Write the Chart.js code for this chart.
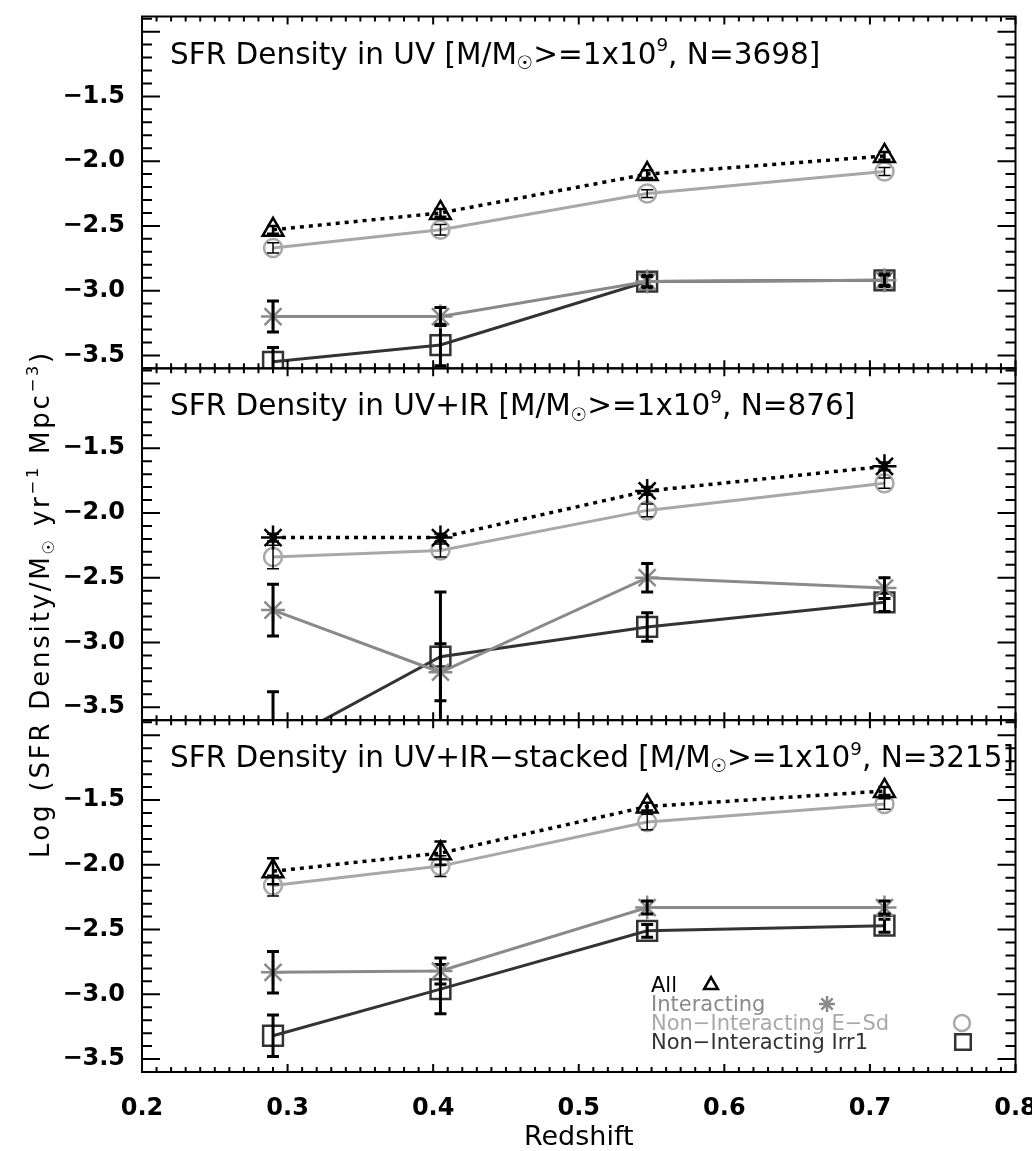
<!DOCTYPE html>
<html>
<head>
<meta charset="utf-8">
<script src="https://cdn.jsdelivr.net/npm/chart.js@4/dist/chart.umd.min.js"></script>
<style>
  html, body { margin: 0; padding: 0; background: #fff; }
</style>
</head>
<body>
<canvas id="sfr-chart" width="1032" height="1151"></canvas>
<script>
// redshift bins shared by all three panels
var redshift = [0.29, 0.405, 0.547, 0.71];

// panel 1: UV
var uvAll = [-2.53, -2.40, -2.10, -1.96];
var uvAllErr = [0.03, 0.03, 0.03, 0.03];
var uvInt = [-3.20, -3.20, -2.93, -2.92];
var uvIntErr = [0.12, 0.07, 0.04, 0.04];
var uvEsd = [-2.67, -2.53, -2.25, -2.08];
var uvEsdErr = [0.04, 0.04, 0.03, 0.03];
var uvIrr = [-3.55, -3.42, -2.93, -2.92];
var uvIrrErr = [0.11, 0.16, 0.05, 0.05];

// panel 2: UV+IR
var irAll = [-2.19, -2.19, -1.83, -1.64];
var irAllErr = [0.03, 0.03, 0.03, 0.03];
var irInt = [-2.75, -3.23, -2.50, -2.58];
var irIntErr = [0.20, 0.22, 0.11, 0.08];
var irEsd = [-2.34, -2.29, -1.98, -1.77];
var irEsdErr = [0.09, 0.05, 0.05, 0.04];
var irIrr = [-3.81, -3.11, -2.88, -2.69];
var irIrrErr = [0.43, 0.50, 0.11, 0.07];

// panel 3: UV+IR-stacked
var stAll = [-2.05, -1.91, -1.55, -1.43];
var stAllErr = [0.10, 0.09, 0.03, 0.03];
var stInt = [-2.83, -2.82, -2.33, -2.33];
var stIntErr = [0.16, 0.10, 0.05, 0.05];
var stEsd = [-2.16, -2.01, -1.67, -1.53];
var stEsdErr = [0.08, 0.08, 0.06, 0.04];
var stIrr = [-3.32, -2.96, -2.51, -2.47];
var stIrrErr = [0.16, 0.19, 0.05, 0.05];

var yLabels = [-3.5, -3.0, -2.5, -2.0, -1.5];   // labelled y ticks
var yMin = -3.6, yMax = -0.883;

var fontName = '"DejaVu Sans", sans-serif';
var colAll = "#000000", colInt = "#8a8a8a", colEsd = "#a8a8a8", colIrr = "#333333";

// text runs for the titles (s: sub / sup)
var panels = [
  { id: "yA", title: [{t: "SFR Density in UV [M/M"}, {t: "\u2609", s: "sub"}, {t: ">=1x10"}, {t: "9", s: "sup"}, {t: ", N=3698]"}],
    all: uvAll, allErr: uvAllErr, allStyle: "triangle",
    int: uvInt, intErr: uvIntErr, esd: uvEsd, esdErr: uvEsdErr, irr: uvIrr, irrErr: uvIrrErr },
  { id: "yB", title: [{t: "SFR Density in UV+IR [M/M"}, {t: "\u2609", s: "sub"}, {t: ">=1x10"}, {t: "9", s: "sup"}, {t: ", N=876]"}],
    all: irAll, allErr: irAllErr, allStyle: "star",
    int: irInt, intErr: irIntErr, esd: irEsd, esdErr: irEsdErr, irr: irIrr, irrErr: irIrrErr },
  { id: "yC", title: [{t: "SFR Density in UV+IR\u2212stacked [M/M"}, {t: "\u2609", s: "sub"}, {t: ">=1x10"}, {t: "9", s: "sup"}, {t: ", N=3215]"}],
    all: stAll, allErr: stAllErr, allStyle: "triangle",
    int: stInt, intErr: stIntErr, esd: stEsd, esdErr: stEsdErr, irr: stIrr, irrErr: stIrrErr }
];

var yTitle = [{t: "Log (SFR Density/M"}, {t: "\u2609", s: "sub"}, {t: " yr"}, {t: "\u22121", s: "sup"}, {t: " Mpc"}, {t: "\u22123", s: "sup"}, {t: ")"}];

var legendRows = [
  { text: "All", color: colAll, style: "triangle", dx: 60 },
  { text: "Interacting", color: colInt, style: "star", dx: 176 },
  { text: "Non\u2212Interacting E\u2212Sd", color: colEsd, style: "circle", dx: 311 },
  { text: "Non\u2212Interacting Irr1", color: colIrr, style: "rect", dx: 312 }
];

function toPoints(vals) {
  return vals.map(function (v, i) { return { x: redshift[i], y: v }; });
}

function series(label, axis, vals, errs, color, style, radius, dash, errWidth) {
  return {
    label: label,
    yAxisID: axis,
    data: toPoints(vals),
    errors: errs,
    errWidth: errWidth,
    showLine: true,
    borderColor: color,
    borderWidth: dash ? 3.5 : 3,
    borderDash: dash || [],
    pointStyle: style,
    pointRadius: radius,
    pointBorderWidth: 2.5,
    pointBorderColor: color,
    pointBackgroundColor: "rgba(0,0,0,0)"
  };
}

var datasets = [];
panels.forEach(function (p) {
  datasets.push(series("All", p.id, p.all, p.allErr, colAll, p.allStyle, 12, [4, 5], 2.5));
  datasets.push(series("Interacting", p.id, p.int, p.intErr, colInt, "star", 12, null, 3));
  datasets.push(series("Non-Interacting E-Sd", p.id, p.esd, p.esdErr, colEsd, "circle", 9, null, 1.5));
  datasets.push(series("Non-Interacting Irr1", p.id, p.irr, p.irrErr, colIrr, "rect", 14, null, 3));
});

// draw text runs char by char with optional extra spacing
function drawRich(ctx, runs, x, y, size, gap) {
  runs.forEach(function (r) {
    var fs = r.s ? size * 0.62 : size;
    var dy = r.s === "sup" ? -size * 0.42 : (r.s === "sub" ? size * 0.18 : 0);
    ctx.font = fs + "px " + fontName;
    Array.from(r.t).forEach(function (c) {
      ctx.fillText(c, x, y + dy);
      x += ctx.measureText(c).width + gap;
    });
  });
  return x;
}

function richWidth(ctx, runs, size, gap) {
  var w = 0;
  runs.forEach(function (r) {
    ctx.font = (r.s ? size * 0.62 : size) + "px " + fontName;
    Array.from(r.t).forEach(function (c) { w += ctx.measureText(c).width + gap; });
  });
  return w;
}

// clip every dataset to its own panel, and add the error bars
var panelClip = {
  id: "panelClip",
  beforeDatasetDraw: function (chart, args) {
    var ys = args.meta.yScale, a = chart.chartArea, ctx = chart.ctx;
    ctx.save();
    ctx.beginPath();
    ctx.rect(a.left, ys.top, a.right - a.left, ys.bottom - ys.top);
    ctx.clip();
  },
  afterDatasetDraw: function (chart, args) {
    var ctx = chart.ctx, ds = chart.data.datasets[args.index];
    var xs = args.meta.xScale, ys = args.meta.yScale;
    ctx.strokeStyle = "#000";
    ctx.lineWidth = ds.errWidth;
    ctx.setLineDash([]);
    ctx.beginPath();
    ds.data.forEach(function (pt, i) {
      var e = ds.errors[i];
      var px = xs.getPixelForValue(pt.x);
      var top = ys.getPixelForValue(pt.y + e), bot = ys.getPixelForValue(pt.y - e);
      ctx.moveTo(px, top); ctx.lineTo(px, bot);
      ctx.moveTo(px - 6, top); ctx.lineTo(px + 6, top);
      ctx.moveTo(px - 6, bot); ctx.lineTo(px + 6, bot);
    });
    ctx.stroke();
    ctx.restore();
  }
};

// IDL-like frame with inward ticks, panel titles, y title and legend
var frameTicks = {
  id: "frameTicks",
  afterDraw: function (chart) {
    var ctx = chart.ctx, a = chart.chartArea, xs = chart.scales.x;
    ctx.save();
    ctx.strokeStyle = "#000";
    ctx.lineWidth = 2;
    panels.forEach(function (p) {
      var ys = chart.scales[p.id];
      ctx.strokeRect(a.left, ys.top, a.right - a.left, ys.bottom - ys.top);
      ctx.beginPath();
      for (var k = Math.ceil(ys.min * 10 - 1e-6); k <= Math.floor(ys.max * 10 + 1e-6); k++) {
        var py = ys.getPixelForValue(k / 10);
        var len = (k % 5 === 0) ? 18 : 10;
        ctx.moveTo(a.left, py); ctx.lineTo(a.left + len, py);
        ctx.moveTo(a.right, py); ctx.lineTo(a.right - len, py);
      }
      for (var j = 20; j <= 80; j++) {
        var px = xs.getPixelForValue(j / 100);
        var l2 = (j % 10 === 0) ? 8 : 5;
        ctx.moveTo(px, ys.top); ctx.lineTo(px, ys.top + l2);
        ctx.moveTo(px, ys.bottom); ctx.lineTo(px, ys.bottom - l2);
      }
      ctx.stroke();

      ctx.fillStyle = "#000";
      ctx.textAlign = "left";
      ctx.textBaseline = "alphabetic";
      drawRich(ctx, p.title, a.left + 28, ys.top + 47, 29.5, 0);
    });

    // y axis title
    ctx.save();
    ctx.translate(40, 604);
    ctx.rotate(-Math.PI / 2);
    var w = richWidth(ctx, yTitle, 26, 2.8);
    drawRich(ctx, yTitle, -w / 2, 9, 26, 2.8);
    ctx.restore();

    // legend in the bottom panel
    var yc = chart.scales.yC;
    legendRows.forEach(function (row, i) {
      var lx = a.left + 509, ly = yc.bottom - 80 + i * 19;
      ctx.fillStyle = row.color;
      ctx.font = "21px " + fontName;
      ctx.fillText(row.text, lx, ly);
      ctx.strokeStyle = row.color;
      ctx.fillStyle = "rgba(0,0,0,0)";
      ctx.lineWidth = 2.5;
      Chart.helpers.drawPoint(ctx, { pointStyle: row.style, radius: row.style === "rect" ? 11 : 8, rotation: 0, borderWidth: 2.5 }, lx + row.dx, ly - 7);
    });
    ctx.restore();
  }
};

function yAxis(weight) {
  return {
    type: "linear",
    position: "left",
    stack: "panels",
    stackWeight: 1,
    weight: weight,
    min: yMin,
    max: yMax,
    grid: { display: false, drawTicks: false },
    border: { display: false },
    ticks: {
      stepSize: 0.5,
      includeBounds: false,
      padding: 17,
      color: "#000",
      font: { family: fontName, size: 24, weight: "bold" },
      callback: function (v) {
        var hit = yLabels.some(function (l) { return Math.abs(l - v) < 1e-6; });
        return hit ? "\u2212" + Math.abs(v).toFixed(1) : "";
      }
    },
    afterFit: function (s) {
      s.width = 142;
      s.paddingTop = 0;
      s.paddingBottom = 0;
    }
  };
}

var config = {
  type: "scatter",
  data: { datasets: datasets },
  options: {
    responsive: false,
    animation: false,
    events: [],
    layout: { padding: { left: 0, right: 15, top: 12, bottom: 0 } },
    plugins: { legend: { display: false }, tooltip: { enabled: false } },
    scales: {
      x: {
        type: "linear",
        position: "bottom",
        min: 0.2,
        max: 0.8,
        grid: { display: false, drawTicks: false },
        border: { display: false },
        ticks: {
          stepSize: 0.1,
          padding: 22,
          color: "#000",
          font: { family: fontName, size: 24, weight: "bold" },
          callback: function (v) { return v.toFixed(1); }
        },
        title: {
          display: true,
          text: "Redshift",
          color: "#000",
          font: { family: fontName, size: 27, lineHeight: 1 },
          padding: { top: 0, bottom: 0 }
        },
        afterFit: function (s) {
          s.height = 79;
          s.paddingLeft = 0;
          s.paddingRight = 0;
        }
      },
      yC: yAxis(1),
      yB: yAxis(2),
      yA: yAxis(3)
    }
  },
  plugins: [panelClip, frameTicks]
};

var sfrChart = new Chart(document.getElementById("sfr-chart"), config);
</script>
</body>
</html>
